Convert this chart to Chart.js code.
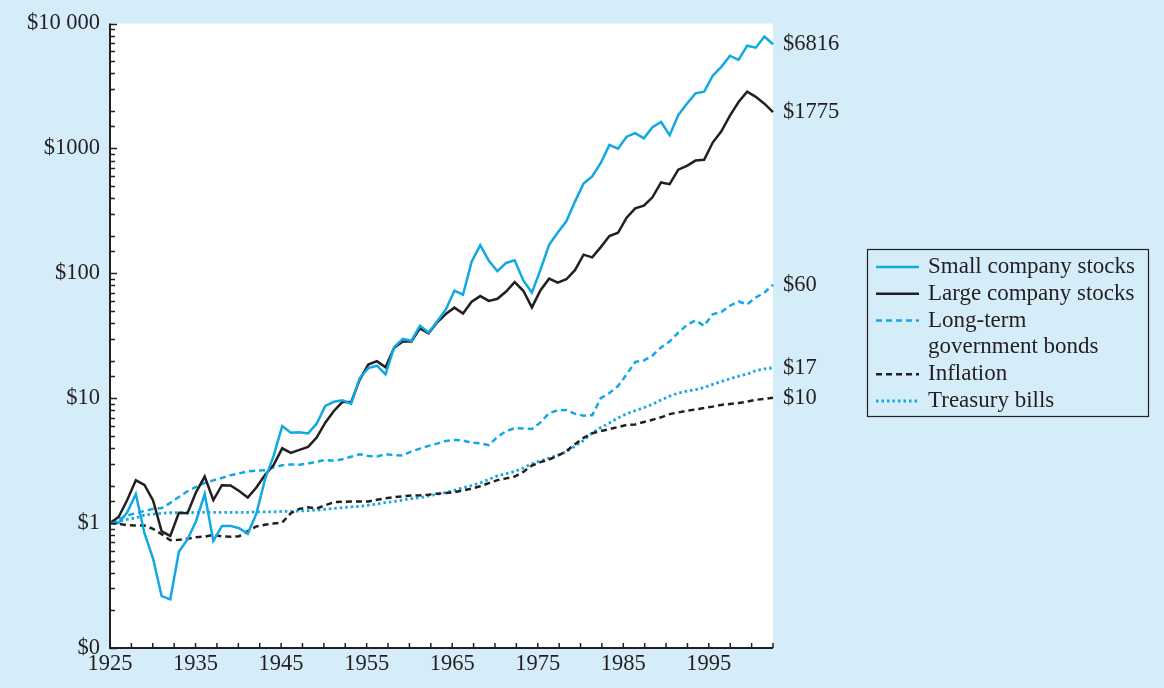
<!DOCTYPE html>
<html>
<head>
<meta charset="utf-8">
<script src="https://cdn.jsdelivr.net/npm/chart.js@4.4.0/dist/chart.umd.min.js"></script>
<style>
  html, body { margin: 0; padding: 0; background: #d5ecf9; }
  #wrap { position: relative; width: 1164px; height: 688px; }
</style>
</head>
<body>
<div id="wrap"><canvas id="growthChart" width="1164" height="688"></canvas></div>
<script>
// year-end value of $1 invested at end of 1925
const years = [1925, 1926, 1927, 1928, 1929, 1930, 1931, 1932, 1933, 1934,
  1935, 1936, 1937, 1938, 1939, 1940, 1941, 1942, 1943, 1944,
  1945, 1946, 1947, 1948, 1949, 1950, 1951, 1952, 1953, 1954,
  1955, 1956, 1957, 1958, 1959, 1960, 1961, 1962, 1963, 1964,
  1965, 1966, 1967, 1968, 1969, 1970, 1971, 1972, 1973, 1974,
  1975, 1976, 1977, 1978, 1979, 1980, 1981, 1982, 1983, 1984,
  1985, 1986, 1987, 1988, 1989, 1990, 1991, 1992, 1993, 1994,
  1995, 1996, 1997, 1998, 1999, 2000, 2001, 2002];

const smallStocks = [1.00, 1.00, 1.22, 1.71, 0.83, 0.52, 0.26, 0.245, 0.59, 0.74,
  1.04, 1.71, 0.72, 0.95, 0.95, 0.91, 0.82, 1.19, 2.24, 3.45,
  5.98, 5.29, 5.34, 5.22, 6.25, 8.68, 9.36, 9.64, 9.01, 14.5,
  17.4, 18.2, 15.5, 25.6, 29.8, 28.8, 38.1, 33.5, 41.4, 51.2,
  72.6, 67.5, 124, 168, 126, 104, 121, 127, 87.6, 70.1,
  107, 169, 212, 261, 375, 524, 597, 764, 1067, 996,
  1241, 1326, 1203, 1478, 1628, 1277, 1847, 2279, 2757, 2843,
  3822, 4496, 5520, 5117, 6641, 6402, 7860, 6816];

const largeStocks = [1.00, 1.12, 1.53, 2.20, 2.02, 1.52, 0.86, 0.79, 1.21, 1.20,
  1.77, 2.36, 1.53, 2.01, 2.00, 1.81, 1.60, 1.93, 2.43, 2.91,
  3.97, 3.65, 3.86, 4.07, 4.84, 6.37, 7.90, 9.35, 9.26, 14.1,
  18.6, 19.8, 17.7, 25.3, 28.4, 28.5, 36.2, 33.0, 40.5, 47.2,
  53.1, 47.7, 59.2, 65.7, 60.1, 62.5, 71.4, 85.0, 72.5, 53.3,
  73.2, 90.6, 84.1, 89.6, 106, 141, 134, 162, 199, 211,
  279, 331, 348, 406, 534, 517, 675, 726, 799, 810,
  1114, 1371, 1828, 2351, 2846, 2587, 2279, 1950];

const govBonds = [1.00, 1.07, 1.15, 1.20, 1.25, 1.30, 1.32, 1.45, 1.62, 1.80,
  1.95, 2.10, 2.20, 2.30, 2.42, 2.50, 2.60, 2.63, 2.65, 2.80,
  2.90, 2.95, 2.93, 3.00, 3.10, 3.20, 3.15, 3.25, 3.40, 3.56,
  3.45, 3.42, 3.56, 3.50, 3.48, 3.75, 3.95, 4.15, 4.33, 4.55,
  4.63, 4.58, 4.40, 4.35, 4.20, 4.90, 5.45, 5.75, 5.72, 5.68,
  6.40, 7.60, 8.00, 8.05, 7.50, 7.25, 7.30, 10.0, 11.0, 12.5,
  15.5, 19.5, 20.0, 22.0, 25.5, 28.5, 33.5, 38.5, 42.0, 38.0,
  47.0, 49.0, 55.0, 59.5, 56.5, 64.0, 70.0, 81.0];

const inflation = [1.00, 0.985, 0.964, 0.955, 0.957, 0.899, 0.814, 0.730, 0.734, 0.749,
  0.771, 0.780, 0.804, 0.782, 0.778, 0.786, 0.862, 0.942, 0.971, 0.992,
  1.01, 1.20, 1.30, 1.34, 1.31, 1.39, 1.47, 1.48, 1.49, 1.49,
  1.49, 1.54, 1.58, 1.61, 1.64, 1.66, 1.67, 1.69, 1.72, 1.74,
  1.77, 1.83, 1.89, 1.97, 2.09, 2.21, 2.28, 2.36, 2.57, 2.89,
  3.08, 3.23, 3.46, 3.77, 4.28, 4.81, 5.24, 5.45, 5.65, 5.88,
  6.10, 6.17, 6.44, 6.72, 7.03, 7.46, 7.69, 7.92, 8.13, 8.35,
  8.56, 8.84, 9.00, 9.14, 9.39, 9.71, 9.86, 10.1];

const treasuryBills = [1.00, 1.03, 1.07, 1.10, 1.16, 1.18, 1.20, 1.21, 1.21, 1.21,
  1.22, 1.22, 1.22, 1.22, 1.22, 1.22, 1.22, 1.23, 1.23, 1.23,
  1.24, 1.24, 1.25, 1.26, 1.27, 1.29, 1.31, 1.33, 1.35, 1.36,
  1.39, 1.42, 1.46, 1.49, 1.53, 1.57, 1.60, 1.65, 1.70, 1.76,
  1.83, 1.92, 2.00, 2.10, 2.24, 2.39, 2.49, 2.59, 2.76, 2.99,
  3.16, 3.32, 3.49, 3.74, 4.13, 4.59, 5.27, 5.82, 6.34, 6.96,
  7.50, 7.96, 8.39, 8.93, 9.67, 10.4, 11.0, 11.4, 11.7, 12.2,
  12.9, 13.6, 14.3, 15.0, 15.6, 16.6, 17.2, 17.5];

const seriesNames = ['Small company stocks', 'Large company stocks', 'Long-term government bonds', 'Inflation', 'Treasury bills'];
const endLabels = ['$6816', '$1775', '$60', '$10', '$17'];
const yTickLabels = ['$0', '$1', '$10', '$100', '$1000', '$10 000'];
const xTickLabels = ['1925', '1935', '1945', '1955', '1965', '1975', '1985', '1995'];

const ink = '#231f20';
const cyan = '#12a8e3';
const serif = '"Liberation Serif", "DejaVu Serif", serif';

Chart.defaults.font.family = serif;
Chart.defaults.font.size = 22.5;
Chart.defaults.color = ink;

function toPoints(values) {
  return values.map((v, i) => ({ x: years[i], y: v }));
}

const styles = [
  { color: cyan, width: 2.5, dash: [] },
  { color: ink, width: 2.5, dash: [] },
  { color: cyan, width: 2.5, dash: [6, 4] },
  { color: ink, width: 2.5, dash: [6, 4] },
  { color: cyan, width: 2.8, dash: [2.5, 3] }
];
const allSeries = [smallStocks, largeStocks, govBonds, inflation, treasuryBills];

const datasets = allSeries.map((vals, i) => ({
  label: seriesNames[i],
  data: toPoints(vals),
  borderColor: styles[i].color,
  borderWidth: styles[i].width,
  borderDash: styles[i].dash,
  pointRadius: 0,
  tension: 0,
  fill: false,
  clip: false
}));

const legendRows = [['Small company stocks'], ['Large company stocks'], ['Long-term', 'government bonds'], ['Inflation'], ['Treasury bills']];

const framePlugin = {
  id: 'frame',
  beforeDraw(chart) {
    const { ctx, chartArea: a } = chart;
    ctx.save();
    ctx.fillStyle = '#ffffff';
    ctx.fillRect(a.left, a.top, a.right - a.left, a.bottom - a.top);
    ctx.restore();
  },
  afterDraw(chart) {
    const { ctx, chartArea: a, scales } = chart;
    const x = scales.x, y = scales.y;
    ctx.save();
    ctx.strokeStyle = ink;
    ctx.lineWidth = 2;
    ctx.setLineDash([]);
    ctx.beginPath();
    ctx.moveTo(a.left, a.top);
    ctx.lineTo(a.left, a.bottom);
    ctx.lineTo(a.right, a.bottom);
    ctx.stroke();

    // tick marks point into the plot
    ctx.lineWidth = 1.5;
    ctx.beginPath();
    y.ticks.forEach(t => {
      const p = Math.round(y.getPixelForValue(t.value)) + 0.5;
      const lg = Math.log10(t.value);
      const len = Math.abs(lg - Math.round(lg)) < 1e-6 ? 7 : 5;
      ctx.moveTo(a.left, p);
      ctx.lineTo(a.left + len, p);
    });
    x.ticks.forEach(t => {
      const p = x.getPixelForValue(t.value);
      ctx.moveTo(p, a.bottom);
      ctx.lineTo(p, a.bottom - 5);
    });
    ctx.stroke();

    // value labels at the line ends
    ctx.fillStyle = ink;
    ctx.font = '22.5px ' + serif;
    ctx.textAlign = 'left';
    ctx.textBaseline = 'middle';
    allSeries.forEach((vals, i) => {
      const py = y.getPixelForValue(vals[vals.length - 1]);
      ctx.fillText(endLabels[i], a.right + 10, py);
    });

    // legend box
    const bx = 867, by = 249, bw = 281, bh = 167;
    ctx.lineWidth = 1.2;
    ctx.strokeRect(bx + 0.5, by + 0.5, bw, bh);
    ctx.font = '23px ' + serif;
    let row = 0;
    const rowH = 26.8, firstY = 267;
    legendRows.forEach((lines, i) => {
      const ly = firstY + row * rowH;
      ctx.strokeStyle = styles[i].color;
      ctx.lineWidth = styles[i].width;
      ctx.setLineDash(styles[i].dash);
      ctx.beginPath();
      ctx.moveTo(876, ly);
      ctx.lineTo(919, ly);
      ctx.stroke();
      ctx.setLineDash([]);
      lines.forEach((txt, k) => {
        ctx.fillText(txt, 928, firstY + (row + k) * rowH);
      });
      row += lines.length;
    });
    ctx.restore();
  }
};

new Chart(document.getElementById('growthChart'), {
  type: 'line',
  data: { datasets: datasets },
  options: {
    responsive: false,
    animation: false,
    devicePixelRatio: 1,
    layout: { padding: { top: 20, right: 391, bottom: 0, left: 0 } },
    plugins: { legend: { display: false }, tooltip: { enabled: false } },
    scales: {
      x: {
        type: 'linear',
        min: years[0],
        max: years[years.length - 1],
        grid: { display: false, drawTicks: false },
        border: { display: false },
        afterBuildTicks(scale) {
          // 31 equal steps across the axis, every 4th one labelled
          const ticks = [];
          for (let k = 0; k <= 31; k++) ticks.push({ value: scale.min + k * (scale.max - scale.min) / 31 });
          scale.ticks = ticks;
        },
        afterFit(scale) { scale.height = 40; },
        ticks: {
          autoSkip: false,
          maxRotation: 0,
          padding: 3,
          callback: (v, i) => (i % 4 === 0 ? xTickLabels[i / 4] : '')
        }
      },
      y: {
        type: 'logarithmic',
        min: 0.1,
        max: 10000,
        grid: { display: false, drawTicks: false },
        border: { display: false },
        afterFit(scale) { scale.width = 110; },
        ticks: {
          autoSkip: false,
          padding: 10,
          callback: v => {
            const lg = Math.log10(v);
            if (Math.abs(lg - Math.round(lg)) > 1e-6) return '';
            return yTickLabels[Math.round(lg) + 1];
          }
        }
      }
    }
  },
  plugins: [framePlugin]
});
</script>
</body>
</html>
